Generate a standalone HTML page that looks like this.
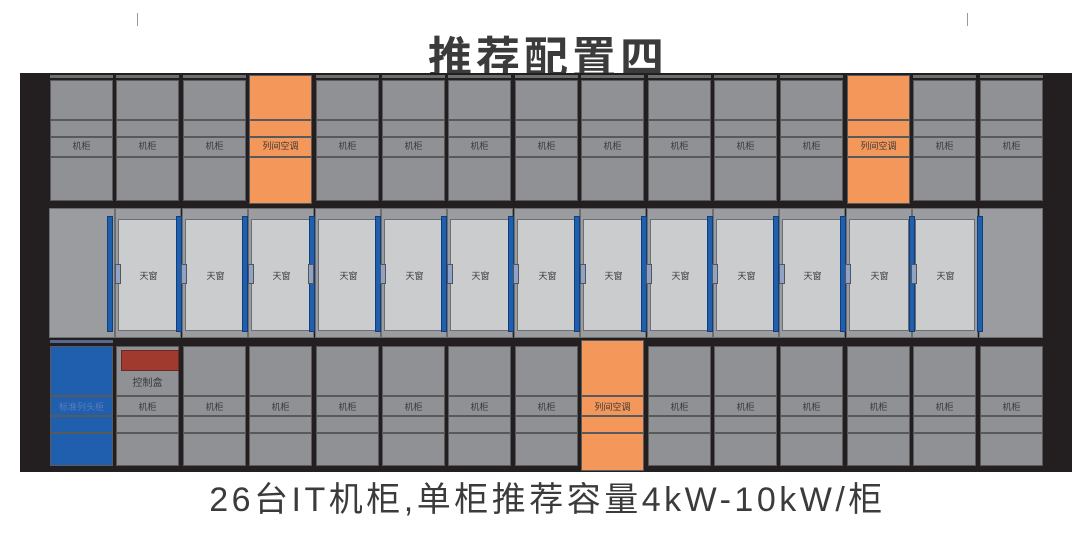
<!DOCTYPE html>
<html><head><meta charset="utf-8"><style>
body{margin:0;width:1092px;height:535px;background:#fff;position:relative;overflow:hidden;font-family:"Liberation Sans","Noto Sans CJK SC",sans-serif}
.a{position:absolute}
.bg{left:20px;top:73px;width:1052px;height:399px;background:#231f20}
.c{position:absolute;width:63px;box-sizing:border-box;border:1px solid #5a5a5c;background:
linear-gradient(#58595b,#58595b) 0 var(--b1)/100% 2px no-repeat,
linear-gradient(#58595b,#58595b) 0 var(--b2)/100% 2px no-repeat,
linear-gradient(#58595b,#58595b) 0 var(--b3)/100% 2px no-repeat,var(--col,#909195)}
.t{top:80px;height:121px;--b1:38px;--b2:55px;--b3:75px}
.b{top:346px;height:120px;--b1:48px;--b2:68px;--b3:85px}
.o{--col:#f4975a}
.bl{--col:#1f5fae}
.l{position:absolute;width:63px;text-align:center;font-size:9px;color:#3a3a3a}
.m{position:absolute;top:208px;height:130px;width:66px;box-sizing:border-box;background:#9b9ca0;border:1px solid #6d6e70}
.p{position:absolute;top:219px;height:112px;width:60px;box-sizing:border-box;background:#cbcccd;border:1px solid #6d6e70}
.v{position:absolute;top:216px;height:116px;width:6px;background:#1f5fae;border:1px solid #123e78;box-sizing:border-box}
.k{position:absolute;top:264px;height:20px;width:6px;background:#8fa3c8;border:1px solid #555;box-sizing:border-box}
.s{position:absolute;height:3px;width:63px;background:#6d6e70}
</style></head><body>
<div class="a" style="left:137px;top:13px;width:1px;height:13px;background:#999"></div>
<div class="a" style="left:967px;top:13px;width:1px;height:13px;background:#999"></div>
<div class="a" style="left:0;width:1092px;top:22px;text-align:center;font-size:44px;font-weight:bold;color:#3b3b3b;letter-spacing:4px;text-indent:4px">推荐配置四</div>
<div class="a bg"></div>
<div class="s" style="left:50px;top:75px"></div><div class="s" style="left:116px;top:75px"></div><div class="s" style="left:183px;top:75px"></div><div class="s" style="left:316px;top:75px"></div><div class="s" style="left:382px;top:75px"></div><div class="s" style="left:448px;top:75px"></div><div class="s" style="left:515px;top:75px"></div><div class="s" style="left:581px;top:75px"></div><div class="s" style="left:648px;top:75px"></div><div class="s" style="left:714px;top:75px"></div><div class="s" style="left:780px;top:75px"></div><div class="s" style="left:913px;top:75px"></div><div class="s" style="left:980px;top:75px"></div>
<div class="c t" style="left:50px"></div><div class="c t" style="left:116px"></div><div class="c t" style="left:183px"></div><div class="c t o" style="left:249px;top:75px;height:129px;--b1:43px;--b2:60px;--b3:80px"></div><div class="c t" style="left:316px"></div><div class="c t" style="left:382px"></div><div class="c t" style="left:448px"></div><div class="c t" style="left:515px"></div><div class="c t" style="left:581px"></div><div class="c t" style="left:648px"></div><div class="c t" style="left:714px"></div><div class="c t" style="left:780px"></div><div class="c t o" style="left:847px;top:75px;height:129px;--b1:43px;--b2:60px;--b3:80px"></div><div class="c t" style="left:913px"></div><div class="c t" style="left:980px"></div>
<div class="l" style="left:50px;top:139px">机柜</div><div class="l" style="left:116px;top:139px">机柜</div><div class="l" style="left:183px;top:139px">机柜</div><div class="l" style="left:249px;top:139px">列间空调</div><div class="l" style="left:316px;top:139px">机柜</div><div class="l" style="left:382px;top:139px">机柜</div><div class="l" style="left:448px;top:139px">机柜</div><div class="l" style="left:515px;top:139px">机柜</div><div class="l" style="left:581px;top:139px">机柜</div><div class="l" style="left:648px;top:139px">机柜</div><div class="l" style="left:714px;top:139px">机柜</div><div class="l" style="left:780px;top:139px">机柜</div><div class="l" style="left:847px;top:139px">列间空调</div><div class="l" style="left:913px;top:139px">机柜</div><div class="l" style="left:980px;top:139px">机柜</div>
<div class="m" style="left:49px"></div><div class="m" style="left:115px"></div><div class="m" style="left:182px"></div><div class="m" style="left:248px"></div><div class="m" style="left:315px"></div><div class="m" style="left:381px"></div><div class="m" style="left:447px"></div><div class="m" style="left:514px"></div><div class="m" style="left:580px"></div><div class="m" style="left:647px"></div><div class="m" style="left:713px"></div><div class="m" style="left:779px"></div><div class="m" style="left:846px"></div><div class="m" style="left:912px"></div><div class="m" style="left:979px;width:64px"></div>
<div class="p" style="left:118px"></div><div class="p" style="left:185px"></div><div class="p" style="left:251px"></div><div class="p" style="left:318px"></div><div class="p" style="left:384px"></div><div class="p" style="left:450px"></div><div class="p" style="left:517px"></div><div class="p" style="left:583px"></div><div class="p" style="left:650px"></div><div class="p" style="left:716px"></div><div class="p" style="left:782px"></div><div class="p" style="left:849px"></div><div class="p" style="left:915px"></div>
<div class="v" style="left:107px"></div><div class="v" style="left:176px"></div><div class="v" style="left:242px"></div><div class="v" style="left:309px"></div><div class="v" style="left:375px"></div><div class="v" style="left:441px"></div><div class="v" style="left:508px"></div><div class="v" style="left:574px"></div><div class="v" style="left:641px"></div><div class="v" style="left:707px"></div><div class="v" style="left:773px"></div><div class="v" style="left:840px"></div><div class="v" style="left:909px"></div><div class="v" style="left:977px"></div>
<div class="k" style="left:115px"></div><div class="k" style="left:181px"></div><div class="k" style="left:248px"></div><div class="k" style="left:308px"></div><div class="k" style="left:380px"></div><div class="k" style="left:447px"></div><div class="k" style="left:513px"></div><div class="k" style="left:580px"></div><div class="k" style="left:646px"></div><div class="k" style="left:712px"></div><div class="k" style="left:779px"></div><div class="k" style="left:845px"></div><div class="k" style="left:911px"></div>
<div class="l" style="left:117px;top:269px">天窗</div><div class="l" style="left:184px;top:269px">天窗</div><div class="l" style="left:250px;top:269px">天窗</div><div class="l" style="left:317px;top:269px">天窗</div><div class="l" style="left:383px;top:269px">天窗</div><div class="l" style="left:449px;top:269px">天窗</div><div class="l" style="left:516px;top:269px">天窗</div><div class="l" style="left:582px;top:269px">天窗</div><div class="l" style="left:649px;top:269px">天窗</div><div class="l" style="left:715px;top:269px">天窗</div><div class="l" style="left:781px;top:269px">天窗</div><div class="l" style="left:848px;top:269px">天窗</div><div class="l" style="left:914px;top:269px">天窗</div>
<div class="s" style="left:50px;top:340px;background:#56688e"></div>
<div class="c b bl" style="left:50px"></div><div class="c b" style="left:116px"></div><div class="c b" style="left:183px"></div><div class="c b" style="left:249px"></div><div class="c b" style="left:316px"></div><div class="c b" style="left:382px"></div><div class="c b" style="left:448px"></div><div class="c b" style="left:515px"></div><div class="c b o" style="left:581px;top:340px;height:131px;--b1:54px;--b2:74px;--b3:91px"></div><div class="c b" style="left:648px"></div><div class="c b" style="left:714px"></div><div class="c b" style="left:780px"></div><div class="c b" style="left:847px"></div><div class="c b" style="left:913px"></div><div class="c b" style="left:980px"></div>
<div class="a" style="left:121px;top:350px;width:58px;height:21px;background:#a13a2e;border:1px solid #6b2a22;box-sizing:border-box"></div>
<div class="l" style="left:116px;top:374px;font-size:10px">控制盒</div>
<div class="l" style="left:50px;top:400px;color:#5b7db8">标准列头柜</div><div class="l" style="left:116px;top:400px">机柜</div><div class="l" style="left:183px;top:400px">机柜</div><div class="l" style="left:249px;top:400px">机柜</div><div class="l" style="left:316px;top:400px">机柜</div><div class="l" style="left:382px;top:400px">机柜</div><div class="l" style="left:448px;top:400px">机柜</div><div class="l" style="left:515px;top:400px">机柜</div><div class="l" style="left:581px;top:400px">列间空调</div><div class="l" style="left:648px;top:400px">机柜</div><div class="l" style="left:714px;top:400px">机柜</div><div class="l" style="left:780px;top:400px">机柜</div><div class="l" style="left:847px;top:400px">机柜</div><div class="l" style="left:913px;top:400px">机柜</div><div class="l" style="left:980px;top:400px">机柜</div>
<div class="a" style="left:0;width:1092px;top:472px;text-align:center;font-size:34px;color:#3b3b3b;letter-spacing:3.5px;text-indent:3px">26台IT机柜,单柜推荐容量4kW-10kW/柜</div>
</body></html>
